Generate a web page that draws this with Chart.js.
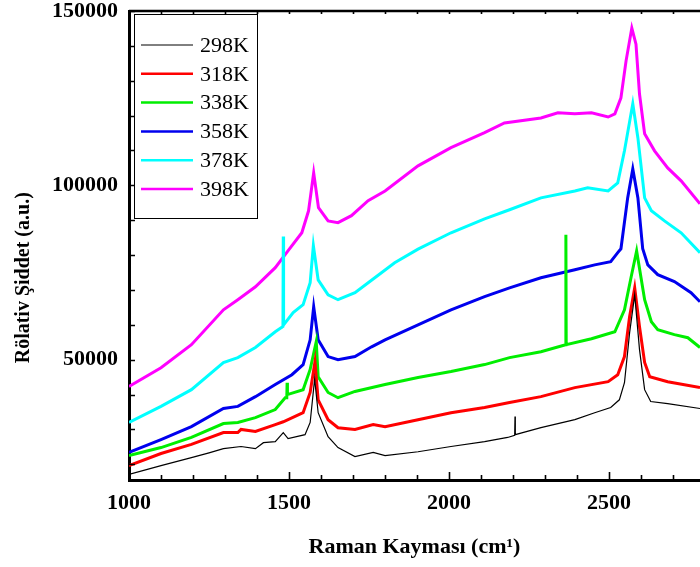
<!DOCTYPE html>
<html>
<head>
<meta charset="utf-8">
<script src="https://cdn.jsdelivr.net/npm/chart.js@4/dist/chart.umd.min.js"></script>
<style>
  body { margin: 0; background: #fff; }
  #c { display: block; }
</style>
</head>
<body>
<canvas id="c" width="700" height="567"></canvas>
<script>
// Raman spektrumlari, her sicaklik icin (x: cm-1, y: a.u.)
let seriesLabels = ["298K", "318K", "338K", "358K", "378K", "398K"];
let seriesColors = ["#000000", "#ff0000", "#00ee00", "#0000ee", "#00ffff", "#ff00ff"];

let x298 = [1000,1100,1195,1250,1295,1350,1395,1420,1457,1482,1497,1550,1566,1580,1591,1622,1653,1706,1763,1800,1903,2006,2111,2183,2205,2206,2207,2287,2393,2455,2505,2532,2548,2564,2580,2595,2611,2630,2683,2784];
let y298 = [17100,19600,21900,23300,24500,25100,24500,26200,26500,29100,27400,28500,32000,44500,34800,27900,24800,22200,23400,22500,23600,25100,26500,27700,28300,33700,28500,30500,32800,34800,36300,38500,43400,57700,68600,52900,41400,38000,37400,36000];

let x318 = [1000,1100,1195,1295,1340,1350,1395,1457,1482,1544,1566,1581,1591,1622,1653,1706,1763,1800,1903,2006,2111,2189,2287,2393,2497,2527,2548,2564,2580,2595,2611,2627,2683,2784];
let y318 = [19600,23100,25700,29100,29100,30000,29400,31400,32200,34800,40600,49400,38500,32800,30500,30000,31400,30800,32800,34800,36300,37700,39400,42000,43700,45700,50900,62300,70600,59500,49200,45100,43700,42000];

let x338 = [1000,1100,1195,1295,1340,1395,1457,1488,1493,1494,1495,1544,1566,1585,1591,1622,1653,1706,1800,1903,2006,2111,2189,2287,2364,2365,2366,2445,2518,2548,2569,2586,2611,2632,2652,2704,2746,2784];
let y338 = [22500,24800,27700,31700,32000,33400,35700,39100,39100,43400,40000,41400,47200,55200,45100,40600,39100,40900,42900,44900,46600,48600,50600,52300,54300,85800,54300,56000,58000,64300,73800,81200,67200,60900,58600,57200,56300,53500];

let x358 = [1000,1100,1195,1295,1340,1395,1457,1509,1544,1566,1577,1591,1622,1653,1706,1758,1800,1903,2006,2111,2189,2287,2393,2455,2505,2527,2537,2558,2574,2590,2605,2621,2652,2704,2756,2784];
let y358 = [23400,27100,30800,36000,36600,39400,42900,45700,48600,55700,65200,55700,50900,50000,50900,53700,55700,60000,64300,68100,70600,73500,75800,77200,78100,80700,81800,96400,104700,96400,81800,77200,74400,72400,69200,66600];

let x378 = [1000,1100,1195,1295,1340,1395,1457,1481,1482,1483,1513,1544,1566,1576,1591,1622,1653,1706,1768,1830,1903,2006,2111,2189,2287,2393,2433,2497,2527,2548,2574,2590,2611,2632,2673,2725,2784];
let y378 = [32000,36600,41400,49200,50600,53500,58000,59500,85300,60000,63500,65800,72100,82700,72900,68600,67200,69200,73500,77800,81700,86400,90400,93000,96400,98400,99300,98400,100700,109900,123400,113600,96400,92700,89800,86400,80700];

let x398 = [1000,1100,1195,1295,1340,1395,1457,1499,1540,1561,1577,1592,1622,1653,1695,1747,1800,1903,2006,2111,2173,2287,2340,2393,2445,2497,2518,2537,2553,2571,2584,2595,2611,2642,2683,2725,2784];
let y398 = [42300,47700,54300,64300,67200,70900,76400,81500,86400,92700,103600,93600,89800,89300,91300,95600,98400,105600,110800,115100,117900,119300,120800,120500,120800,119600,120500,125100,135700,145100,140500,126200,114800,109900,105000,101300,94700];

let xTicks = [1000, 1500, 2000, 2500];
let yTicks = [50000, 100000, 150000];

let allX = [x298, x318, x338, x358, x378, x398];
let allY = [y298, y318, y338, y358, y378, y398];

let datasets = seriesLabels.map((lab, i) => ({
  label: lab,
  data: allX[i].map((v, k) => ({ x: v, y: allY[i][k] })),
  borderColor: seriesColors[i],
  borderWidth: i === 0 ? 1.2 : 3,
  pointRadius: 0,
  tension: 0,
  fill: false
}));

const serif = "'Liberation Serif', 'Times New Roman', serif";

// cerceve, iceri bakan tikler, y basligi ve lejant
const frameTicks = {
  id: "frameTicks",
  afterDraw(chart) {
    const { ctx, chartArea: a, scales: { x, y } } = chart;
    ctx.save();
    ctx.strokeStyle = "#000";
    ctx.lineWidth = 2.5;
    ctx.beginPath();
    ctx.moveTo(a.left, a.top);
    ctx.lineTo(a.right, a.top);
    ctx.stroke();
    ctx.lineWidth = 1.6;
    ctx.beginPath();
    for (let v = 1000; v <= x.max; v += 100) {
      let px = Math.round(x.getPixelForValue(v)) + 0.5;
      let len = v % 500 === 0 ? 8 : 5;
      ctx.moveTo(px, a.bottom);
      ctx.lineTo(px, a.bottom - len);
      ctx.moveTo(px, a.top);
      ctx.lineTo(px, a.top + 3);
    }
    for (let v = 20000; v <= 150000; v += 10000) {
      let py = Math.round(y.getPixelForValue(v)) + 0.5;
      ctx.moveTo(a.left, py);
      ctx.lineTo(a.left + 6, py);
    }
    ctx.stroke();

    // y ekseni basligi (ortanin biraz altinda)
    ctx.save();
    ctx.translate(24, y.getPixelForValue(73500));
    ctx.rotate(-Math.PI / 2);
    ctx.font = "bold 20px " + serif;
    ctx.fillStyle = "#000";
    ctx.textAlign = "center";
    ctx.textBaseline = "middle";
    ctx.fillText("Rölativ Şiddet (a.u.)", 0, 0);
    ctx.restore();

    let lx = a.left + 5, ly = a.top + 3, lw = 123, lh = 204;
    ctx.fillStyle = "#fff";
    ctx.fillRect(lx, ly, lw, lh);
    ctx.lineWidth = 1;
    ctx.strokeRect(lx + 0.5, ly + 0.5, lw, lh);
    ctx.font = "22px " + serif;
    ctx.textBaseline = "middle";
    ctx.textAlign = "left";
    chart.data.datasets.forEach((ds, i) => {
      let yy = ly + 31 + i * 28.8;
      ctx.strokeStyle = ds.borderColor;
      ctx.lineWidth = i === 0 ? 1 : 2.5;
      ctx.beginPath();
      ctx.moveTo(lx + 7, yy);
      ctx.lineTo(lx + 59, yy);
      ctx.stroke();
      ctx.fillStyle = "#000";
      ctx.fillText(ds.label, lx + 66, yy + 1);
    });
    ctx.restore();
  }
};

new Chart(document.getElementById("c"), {
  type: "line",
  data: { datasets: datasets },
  options: {
    responsive: false,
    animation: false,
    layout: { padding: { top: 11, right: 0, bottom: 0, left: 0 } },
    plugins: { legend: { display: false }, tooltip: { enabled: false } },
    scales: {
      x: {
        type: "linear",
        min: 1000,
        max: 2784,
        afterBuildTicks: s => { s.ticks = xTicks.map(v => ({ value: v })); },
        afterFit: s => { s.height = 87; s.paddingLeft = 0; s.paddingRight = 0; },
        ticks: {
          color: "#000",
          font: { family: serif, size: 22, weight: "bold" },
          padding: 10,
          maxRotation: 0,
          autoSkip: false,
          callback: v => String(v)
        },
        grid: { display: false, drawTicks: false },
        border: { display: true, color: "#000", width: 3 },
        title: {
          display: true,
          text: "Raman Kayması (cm¹)",
          color: "#000",
          font: { family: serif, size: 22, weight: "bold" },
          padding: { top: 0, bottom: 6 }
        }
      },
      y: {
        type: "linear",
        min: 15500,
        max: 150000,
        afterBuildTicks: s => { s.ticks = yTicks.map(v => ({ value: v })); },
        afterFit: s => { s.width = 129; s.paddingTop = 0; s.paddingBottom = 0; },
        ticks: {
          color: "#000",
          font: { family: serif, size: 22, weight: "bold", lineHeight: 1 },
          padding: 11,
          autoSkip: false,
          callback: v => String(v)
        },
        grid: { display: false, drawTicks: false },
        border: { display: true, color: "#000", width: 3 },
        title: { display: false }
      }
    }
  },
  plugins: [frameTicks]
});
</script>
</body>
</html>
